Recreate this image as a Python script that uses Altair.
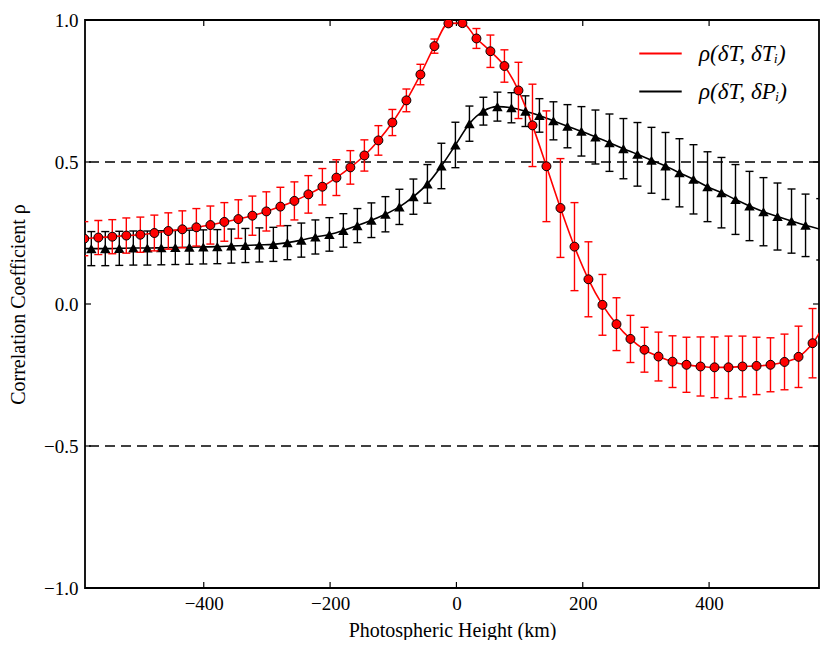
import altair as alt
import pandas as pd

# ---------------- data ----------------
red_h = [-589.1, -566.9, -544.8, -522.6, -500.4, -478.2, -456.1, -433.9, -411.7, -389.5,
         -367.4, -345.2, -323.0, -300.9, -278.7, -256.5, -234.4, -212.2, -190.0, -167.9,
         -145.7, -123.5, -101.4, -79.2, -57.0, -34.8, -12.7, 9.5, 31.7, 53.8,
         76.0, 98.2, 120.4, 142.5, 164.7, 186.9, 209.0, 231.2, 253.4, 275.5,
         297.7, 319.9, 342.1, 364.2, 386.4, 408.6, 430.7, 452.9, 475.1, 497.2,
         519.4, 541.6, 563.8, 585.9]
red_rho = [0.230, 0.234, 0.237, 0.241, 0.244, 0.250, 0.257, 0.263, 0.270, 0.278,
           0.289, 0.299, 0.311, 0.326, 0.343, 0.363, 0.386, 0.413, 0.445, 0.481,
           0.523, 0.576, 0.639, 0.717, 0.808, 0.908, 0.988, 0.989, 0.935, 0.890,
           0.838, 0.752, 0.629, 0.485, 0.338, 0.202, 0.087, -0.003, -0.071, -0.123,
           -0.161, -0.185, -0.203, -0.214, -0.220, -0.223, -0.223, -0.220, -0.218, -0.214,
           -0.204, -0.186, -0.138, -0.060]
red_err = [0.060, 0.060, 0.060, 0.062, 0.062, 0.063, 0.064, 0.065, 0.066, 0.067,
           0.068, 0.068, 0.069, 0.069, 0.068, 0.067, 0.066, 0.064, 0.063, 0.059,
           0.055, 0.052, 0.046, 0.040, 0.036, 0.025, 0.010, 0.008, 0.035, 0.057,
           0.057, 0.099, 0.145, 0.195, 0.174, 0.155, 0.132, 0.107, 0.093, 0.083,
           0.079, 0.086, 0.091, 0.097, 0.104, 0.107, 0.110, 0.107, 0.101, 0.095,
           0.098, 0.108, 0.122, 0.125]

blk_h = [-600.2, -578.0, -555.9, -533.7, -511.5, -489.3, -467.2, -445.0, -422.8, -400.7,
         -378.5, -356.3, -334.1, -312.0, -289.8, -267.6, -245.5, -223.3, -201.1, -179.0,
         -156.8, -134.6, -112.4, -90.3, -68.1, -45.9, -23.8, -1.6, 20.6, 42.7,
         64.9, 87.1, 109.3, 131.4, 153.6, 175.8, 197.9, 220.1, 242.3, 264.4,
         286.6, 308.8, 331.0, 353.1, 375.3, 397.5, 419.6, 441.8, 464.0, 486.1,
         508.3, 530.5, 552.7, 576.0]
blk_rho = [0.195, 0.195, 0.195, 0.196, 0.197, 0.197, 0.198, 0.199, 0.200, 0.201,
           0.202, 0.204, 0.206, 0.208, 0.210, 0.216, 0.225, 0.236, 0.245, 0.259,
           0.276, 0.295, 0.316, 0.342, 0.378, 0.423, 0.486, 0.560, 0.635, 0.679,
           0.695, 0.691, 0.679, 0.664, 0.645, 0.626, 0.608, 0.588, 0.568, 0.547,
           0.527, 0.506, 0.486, 0.462, 0.439, 0.413, 0.392, 0.368, 0.345, 0.325,
           0.308, 0.292, 0.277, 0.263]
blk_err = [0.060, 0.060, 0.060, 0.060, 0.060, 0.060, 0.060, 0.060, 0.060, 0.060,
           0.060, 0.060, 0.060, 0.060, 0.060, 0.060, 0.060, 0.060, 0.059, 0.059,
           0.060, 0.061, 0.062, 0.062, 0.062, 0.068, 0.080, 0.080, 0.062, 0.049,
           0.051, 0.053, 0.054, 0.059, 0.067, 0.076, 0.087, 0.095, 0.101, 0.106,
           0.112, 0.116, 0.118, 0.120, 0.122, 0.123, 0.124, 0.123, 0.122, 0.120,
           0.118, 0.113, 0.110, 0.108]

series_names = ["ρ(δT, δTᵢ)", "ρ(δT, δPᵢ)"]
series_colors = ["#ff0000", "#000000"]
x_ticks = [-400, -200, 0, 200, 400]
y_ticks = [-1.0, -0.5, 0.0, 0.5, 1.0]
ref_levels = [0.5, -0.5]
x_domain = [-588, 574]
y_domain = [-1.0, 1.0]

# ---------------- tables ----------------
red = pd.DataFrame({"h": red_h, "rho": red_rho, "err": red_err, "series": series_names[0]})
blk = pd.DataFrame({"h": blk_h, "rho": blk_rho, "err": blk_err, "series": series_names[1]})
for d in (red, blk):
    d["lo"] = d["rho"] - d["err"]
    d["hi"] = d["rho"] + d["err"]
both = pd.concat([red, blk], ignore_index=True)

W, H = 734, 568
FONT = "'Liberation Serif', 'DejaVu Serif', 'Times New Roman', serif"
xs = alt.Scale(domain=x_domain, nice=False, zero=False)
ys = alt.Scale(domain=y_domain, nice=False, zero=False)

x_axis = alt.Axis(values=x_ticks, ticks=False, domain=False, grid=False,
                  labelExpr="replace(datum.label, '-', '−')",
                  labelFont=FONT, labelFontSize=19, labelColor="black", labelPadding=6,
                  title="Photospheric Height (km)", titleFont=FONT, titleFontSize=20,
                  titleFontWeight="normal", titleColor="black", titlePadding=7)
y_axis = alt.Axis(values=y_ticks, ticks=False, domain=False, grid=False,
                  labelExpr="replace(format(datum.value, '.1f'), '-', '−')",
                  labelFont=FONT, labelFontSize=19, labelColor="black", labelPadding=7,
                  title="Correlation Coefficient ρ", titleFont=FONT, titleFontSize=20,
                  titleFontWeight="normal", titleColor="black", titlePadding=15)


def X(field):
    return alt.X(field, scale=xs, axis=x_axis, title="Photospheric Height (km)")


def Y(field):
    return alt.Y(field, scale=ys, axis=y_axis, title="Correlation Coefficient ρ")


color = alt.Color("series:N",
                  scale=alt.Scale(domain=series_names, range=series_colors),
                  legend=alt.Legend(title=None, orient="none", legendX=553, legendY=11,
                                    symbolType="stroke", symbolSize=1800, symbolStrokeWidth=2,
                                    labelFont=FONT, labelFontSize=23, labelFontStyle="italic",
                                    labelColor="black", labelOffset=16, rowPadding=3,
                                    padding=0))

lines = alt.Chart(both).mark_line(interpolate="monotone", strokeWidth=1.6, clip=True).encode(
    x=X("h:Q"), y=Y("rho:Q"), color=color, detail="series:N",
)


def errbars(df, col):
    bar = alt.Chart(df).mark_rule(color=col, strokeWidth=1.4, clip=True).encode(
        x=X("h:Q"), y=Y("lo:Q"), y2="hi:Q",
    )
    cap_lo = alt.Chart(df).mark_tick(color=col, orient="horizontal", size=8, thickness=1.4,
                                     opacity=1, clip=True).encode(x=X("h:Q"), y=Y("lo:Q"))
    cap_hi = alt.Chart(df).mark_tick(color=col, orient="horizontal", size=8, thickness=1.4,
                                     opacity=1, clip=True).encode(x=X("h:Q"), y=Y("hi:Q"))
    return bar + cap_lo + cap_hi


blk_pts = alt.Chart(blk).transform_filter(f"datum.h <= {x_domain[1]}").mark_point(
    shape="triangle-up", filled=True, color="black", size=110, opacity=1, clip=True
).encode(x=X("h:Q"), y=Y("rho:Q"))

red_pts = alt.Chart(red).mark_circle(
    color="#ff0000", stroke="black", strokeWidth=1, size=80, opacity=1, clip=True
).encode(x=X("h:Q"), y=Y("rho:Q"))

refs = alt.Chart(pd.DataFrame({"v": ref_levels})).mark_rule(
    color="black", strokeWidth=1.5, strokeDash=[10, 6]
).encode(y=Y("v:Q"))

xt = pd.DataFrame({"t": x_ticks})
yt = pd.DataFrame({"t": y_ticks})
tick_style = dict(color="black", strokeWidth=1.2)
ticks_bottom = alt.Chart(xt).mark_rule(**tick_style).encode(
    x=X("t:Q"), y=alt.value(H), y2=alt.value(H - 6))
ticks_top = alt.Chart(xt).mark_rule(**tick_style).encode(
    x=X("t:Q"), y=alt.value(0), y2=alt.value(6))
ticks_left = alt.Chart(yt).mark_rule(**tick_style).encode(
    y=Y("t:Q"), x=alt.value(0), x2=alt.value(6))
ticks_right = alt.Chart(yt).mark_rule(**tick_style).encode(
    y=Y("t:Q"), x=alt.value(W), x2=alt.value(W - 6))

chart = alt.layer(
    refs,
    ticks_bottom, ticks_top, ticks_left, ticks_right,
    errbars(blk, "black"),
    lines,
    blk_pts,
    errbars(red, "#ff0000"),
    red_pts,
).properties(
    width=W, height=H,
    autosize=alt.AutoSizeParams(type="none"),
    padding={"left": 77, "top": 12, "right": 2, "bottom": 52},
    background="white",
).configure_view(stroke="black", strokeWidth=1.8)

chart.save("out.html", embed_options={"renderer": "svg", "actions": False})
